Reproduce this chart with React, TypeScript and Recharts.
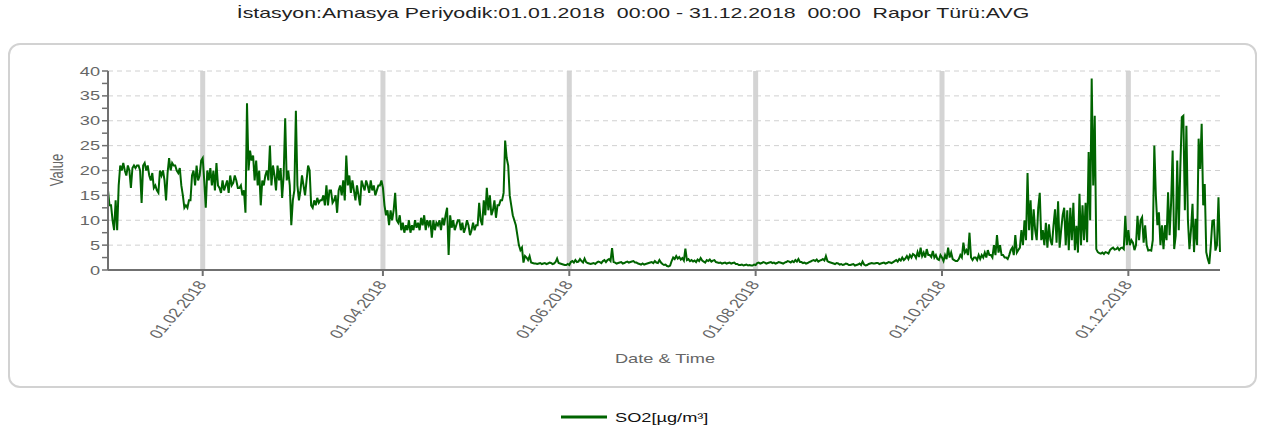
import { CartesianGrid, Line, LineChart, XAxis, YAxis } from "recharts";

const SO2_COLOR = "#006400";
const FONT = '"Liberation Sans", Arial, sans-serif';
// the source picture is stretched sideways, so every text is widened a bit
const STRETCH = 1.4;

const TITLE = "İstasyon:Amasya Periyodik:01.01.2018  00:00 - 31.12.2018  00:00  Rapor Türü:AVG";
const SERIES_NAME = "SO2[µg/m³]";

// x axis: day of year (0 = 01.01.2018)
const xTickDays = [31, 90, 151, 212, 273, 334];
const xTickLabels = ["01.02.2018", "01.04.2018", "01.06.2018", "01.08.2018", "01.10.2018", "01.12.2018"];
const yTicks = [0, 2.5, 5, 7.5, 10, 12.5, 15, 17.5, 20, 22.5, 25, 27.5, 30, 32.5, 35, 37.5, 40];
const yGridValues = [5, 10, 15, 20, 25, 30, 35, 40];

// SO2 readings, two per day (night / day)
const jan = [
  16, 13, 13, 10, 8, 14, 8, 17, 21, 20,
  21.5, 20, 19, 21, 20, 16.5, 20.5, 21, 20.5, 21,
  21, 20, 13.5, 21, 21.5, 20, 21, 19, 18, 19.5,
  16.5, 17, 16, 15.5, 20, 19, 20, 18, 14, 19.5,
  22.5, 20, 21.5, 21, 21, 20, 19.5, 20.5, 17, 15,
  12.5, 13, 12.5, 14, 14, 19, 20, 17, 21, 18,
  19, 22,
];
const feb = [
  22.5, 18, 12.5, 20, 18, 20.5, 17, 20, 16, 21.5,
  17, 16.5, 15.5, 18, 16, 17, 18, 15.5, 19, 17,
  17.5, 19, 18, 16.5, 16.5, 17, 15, 16, 11.5, 33.5,
  20, 24, 22, 23, 18, 22, 17, 20, 13, 18,
  17, 19, 20, 18, 25, 17, 21, 19, 16, 21,
  18, 20.5, 14.5, 19, 30.5, 18,
];
const mar = [
  20, 17, 9, 14, 16, 32, 17, 14, 16, 19,
  17, 15, 18, 21, 20, 13, 12.5, 14, 13, 14.5,
  13.5, 14, 14, 15, 13, 17, 13, 16, 16, 13.5,
  14, 15, 11.5, 16, 17, 15, 18, 14, 23, 17,
  19, 15.5, 18, 16, 14, 17, 15, 13, 18, 17,
  16, 18, 17, 15.5, 18, 16, 17, 15, 16, 17,
  17, 18,
];
const apr = [
  16.5, 13, 11, 12, 9, 12, 10, 12, 15.5, 10,
  9.5, 11, 8, 9.5, 7.5, 9, 8, 10, 7.5, 9,
  8, 10, 8.5, 9.5, 8, 10.5, 9, 11, 8, 10,
  9, 10, 6.5, 10, 8, 9.5, 9, 10, 8, 10.5,
  9, 11, 12.5, 3, 11, 8.5, 10, 8, 9, 10,
  10, 8, 9.5, 7.5, 8.5, 10, 9, 7, 8, 9.5,
];
const may = [
  8, 9, 9, 13.5, 10, 9, 14, 11, 16.5, 12,
  15, 11, 12, 14, 10.5, 13, 13, 14, 14, 15.5,
  26, 22.5, 21, 15, 13, 11, 10, 9, 7, 5,
  4, 4.5, 1.5, 2.8, 2.5, 2, 2.8, 1.5, 1.4, 1.3,
  1.3, 1.2, 1.3, 1.4, 1.2, 1.3, 1.4, 1.2, 1.3, 1.5,
  1.4, 1.2, 1.3, 1.6, 2.3, 1.4, 1.3, 1.2, 1.1, 1.0,
  1.0, 1.2,
];
const jun = [
  1.0, 1.6, 1.8, 1.5, 2.0, 1.6, 1.7, 2.2, 1.8, 1.5,
  2.3, 1.6, 1.4, 1.3, 1.2, 1.3, 1.4, 1.2, 1.5, 1.7,
  1.6, 1.4, 1.8, 2.0, 1.6, 2.0, 2.2, 1.8, 4.4, 1.6,
  1.5, 1.3, 1.4, 1.5, 1.6, 1.3, 1.4, 1.6, 1.7, 1.5,
  1.6, 1.7, 1.8, 1.5, 1.5, 1.3, 1.2, 1.1, 1.3, 1.1,
  1.2, 1.3, 1.4, 1.5, 1.6, 1.4, 1.8, 1.5, 1.4, 2.0,
];
const jul = [
  1.5, 1.2, 1.0, 1.1, 0.8, 0.7, 0.9, 1.8, 2.5, 2.2,
  2.8, 2.3, 2.6, 2.1, 2.4, 1.9, 4.3, 2.0, 2.2, 1.8,
  2.0, 1.7, 1.9, 1.6, 2.1, 1.8, 2.4, 1.9, 1.7, 1.5,
  2.0, 1.8, 2.1, 1.7, 1.9, 2.0, 1.6, 1.5, 1.4, 1.5,
  1.3, 1.4, 1.5, 1.3, 1.4, 1.5, 1.3, 1.4, 1.5, 1.2,
  1.2, 1.0, 1.0, 1.1, 0.9, 1.0, 1.1, 0.9, 1.0, 0.9,
  0.9, 1.1,
];
const aug = [
  1.0, 1.4, 1.5, 1.3, 1.4, 1.6, 1.5, 1.3, 1.4, 1.5,
  1.6, 1.4, 1.5, 1.3, 1.4, 1.6, 1.5, 1.4, 1.3, 1.5,
  1.6, 1.8, 1.7, 1.5, 1.8, 1.6, 2.0, 1.7, 2.2, 1.6,
  1.6, 1.4, 1.5, 1.3, 1.4, 1.6, 1.7, 1.9, 2.0, 1.8,
  2.1, 1.7, 1.9, 2.0, 2.2, 1.9, 2.8, 1.8, 1.6, 1.5,
  1.4, 1.3, 1.2, 1.4, 1.3, 1.1, 1.2, 1.0, 1.1, 1.3,
  1.2, 1.0,
];
const sep = [
  1.0, 1.1, 1.2, 0.9, 1.0, 1.1, 1.3, 1.0, 1.7, 1.1,
  0.9, 1.0, 1.2, 1.3, 1.4, 1.3, 1.3, 1.4, 1.4, 1.2,
  1.3, 1.4, 1.5, 1.3, 1.4, 1.6, 1.5, 1.4, 1.6, 1.8,
  2.0, 1.7, 2.2, 1.9, 2.5, 2.0, 2.3, 2.8, 2.2, 3.0,
  2.5, 3.2, 3.0, 2.4, 3.6, 2.6, 4.5, 2.8, 3.5, 2.5,
  4.2, 3.0, 3.0, 2.6, 3.8, 2.5, 3.0, 2.2, 2.0, 3.0,
];
const oct = [
  2.5, 1.8, 3.0, 2.2, 4.5, 2.5, 3.5, 2.2, 2.0, 1.8,
  1.8, 2.2, 3.0, 2.5, 5.5, 3.5, 4.0, 3.0, 7.5, 2.5,
  2.0, 2.5, 2.5, 2.0, 3.0, 2.2, 3.0, 2.5, 3.5, 2.5,
  4.0, 3.0, 3.0, 2.5, 5.0, 3.0, 7.0, 3.5, 5.0, 3.0,
  3.0, 2.5, 2.5, 2.2, 3.0, 4.0, 4.5, 3.0, 7.0, 3.5,
  4.0, 4.5, 8.0, 5.0, 10.0, 6.0, 19.5, 8.0, 14.0, 6.0,
  12.2, 8.0,
];
const nov = [
  6.0, 12.5, 15.5, 6.0, 8.0, 5.0, 9.5, 4.5, 9.2, 6.0,
  5.0, 9.0, 12.2, 5.5, 13.8, 4.5, 8.0, 11.0, 12.5, 5.0,
  12.0, 4.0, 12.5, 6.0, 13.5, 4.0, 8.9, 3.5, 15.3, 5.0,
  13.0, 6.0, 13.5, 5.6, 23.7, 10.0, 38.5, 17.0, 31.0, 4.2,
  3.6, 3.4, 3.3, 3.5, 3.2, 3.6, 3.5, 3.3, 4.0, 4.3,
  4.5, 4.1, 4.2, 4.5, 4.0, 4.4, 4.5, 4.2, 10.9, 5.0,
];
const dec = [
  8.0, 5.0, 6.0, 5.5, 4.0, 5.0, 10.9, 6.0, 10.0, 10.6,
  5.5, 9.0, 5.0, 3.9, 4.0, 3.9, 6.0, 25.0, 15.0, 9.0,
  11.6, 5.0, 9.0, 4.2, 9.0, 6.0, 15.6, 7.0, 13.6, 24.0,
  4.2, 6.9, 22.0, 8.0, 20.3, 30.7, 31.0, 12.0, 29.0, 10.0,
  4.2, 8.0, 13.3, 3.6, 10.3, 5.0, 26.4, 20.3, 29.4, 13.0,
  17.3, 3.6, 2.2, 1.2, 5.0, 9.9, 10.0, 3.9, 5.0, 14.6,
  3.6,
];

const so2 = [...jan, ...feb, ...mar, ...apr, ...may, ...jun, ...jul, ...aug, ...sep, ...oct, ...nov, ...dec];
const data = so2.map((v, i) => ({ day: i / 2, so2: v }));

function ValueTick({ x, y, payload }: any) {
  const v = payload.value;
  if (v % 5 !== 0) return <g />;
  return (
    <g transform={`translate(${x},${y})`}>
      <text
        transform={`scale(${STRETCH},1)`}
        textAnchor="end"
        dy="0.35em"
        fill="#666"
        fontSize={13}
        fontFamily={FONT}
      >
        {v}
      </text>
    </g>
  );
}

function DateTick({ x, y, payload }: any) {
  const label = xTickLabels[xTickDays.indexOf(payload.value)] ?? "";
  return (
    <g transform={`translate(${x - 1},${y + 4}) scale(${STRETCH},1) rotate(-58)`}>
      <text textAnchor="end" dy="0.35em" fill="#666" fontSize={13} fontFamily={FONT}>
        {label}
      </text>
    </g>
  );
}

function SeriesLegend() {
  return (
    <div
      style={{
        position: "absolute",
        left: 0,
        top: 405,
        width: 1269,
        display: "flex",
        justifyContent: "center",
        alignItems: "center",
        height: 24,
      }}
    >
      <svg width={46} height={6}>
        <line x1={0} y1={3} x2={46} y2={3} stroke={SO2_COLOR} strokeWidth={3} />
      </svg>
      <span style={{ display: "inline-block", width: 93, marginLeft: 8 }}>
        <span
          style={{
            display: "inline-block",
            whiteSpace: "nowrap",
            transform: `scaleX(${STRETCH})`,
            transformOrigin: "left center",
            fontSize: 13,
            color: "#111",
          }}
        >
          {SERIES_NAME}
        </span>
      </span>
    </div>
  );
}

export default function App() {
  return (
    <div style={{ position: "absolute", left: 0, top: 0, width: 1269, height: 435, background: "#fff", fontFamily: FONT }}>
      <div
        style={{
          position: "absolute",
          left: 0,
          top: 4,
          width: 1266,
          textAlign: "center",
          whiteSpace: "pre",
          fontSize: 15,
          color: "#222",
          transform: "scaleX(1.42)",
          transformOrigin: "633px 50%",
        }}
      >
        {TITLE}
      </div>
      <div
        style={{
          position: "absolute",
          left: 8,
          top: 43,
          width: 1249,
          height: 345,
          boxSizing: "border-box",
          border: "2px solid #d2d2d2",
          borderRadius: 12,
        }}
      />
      <div
        style={{
          position: "absolute",
          left: 57,
          top: 170,
          fontSize: 13,
          color: "#666",
          whiteSpace: "nowrap",
          transform: `translate(-50%,-50%) scaleX(${STRETCH}) rotate(-90deg)`,
        }}
      >
        Value
      </div>
      <div
        style={{
          position: "absolute",
          left: 665,
          top: 358,
          fontSize: 13,
          color: "#666",
          whiteSpace: "nowrap",
          transform: `translate(-50%,-50%) scaleX(${STRETCH})`,
        }}
      >
        Date &amp; Time
      </div>
      <div style={{ position: "absolute", left: 0, top: 0 }}>
        <LineChart width={1269} height={435} data={data} margin={{ top: 71, right: 49, left: 58, bottom: 85 }}>
          <CartesianGrid horizontal={false} stroke="#d4d4d4" strokeWidth={5} verticalValues={xTickDays} />
          <CartesianGrid vertical={false} stroke="#d0d0d0" strokeDasharray="5 4" horizontalValues={yGridValues} />
          <XAxis
            dataKey="day"
            type="number"
            domain={[0, 364]}
            ticks={xTickDays}
            tick={<DateTick />}
            tickSize={6}
            height={80}
            axisLine={{ stroke: "#707070", strokeWidth: 2 }}
            tickLine={{ stroke: "#707070", strokeWidth: 2 }}
          />
          <YAxis
            type="number"
            domain={[0, 40]}
            ticks={yTicks}
            interval={0}
            tick={<ValueTick />}
            tickSize={6}
            width={50}
            axisLine={{ stroke: "#707070", strokeWidth: 2 }}
            tickLine={{ stroke: "#707070", strokeWidth: 1.5 }}
          />
          <Line
            type="linear"
            dataKey="so2"
            name={SERIES_NAME}
            stroke={SO2_COLOR}
            strokeWidth={2}
            dot={false}
            isAnimationActive={false}
          />
        </LineChart>
      </div>
      <SeriesLegend />
    </div>
  );
}
